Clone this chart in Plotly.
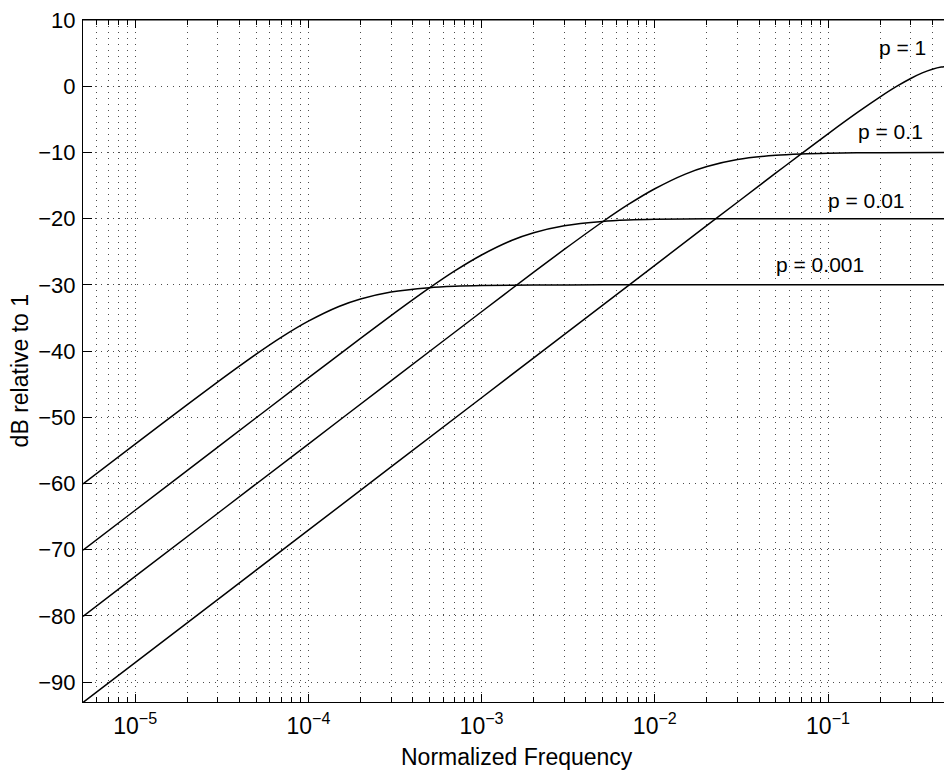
import plotly.graph_objects as go
import math

# ---- data ----
freq_p0001 = [5e-6, 1e-5, 2e-5, 3e-5, 5e-5, 7e-5, 1e-4, 1.5e-4, 2e-4, 3e-4, 5e-4, 7e-4, 1e-3, 2e-3, 5e-3, 1e-2, 1e-1, 0.5]
db_p0001 = [-60.06, -54.06, -48.08, -44.65, -40.47, -37.90, -35.49, -33.27, -32.13, -31.07, -30.42, -30.22, -30.11, -30.03, -30.00, -30.00, -30.00, -30.00]

freq_p001 = [5e-6, 1e-5, 3e-5, 1e-4, 2e-4, 3e-4, 5e-4, 7e-4, 1e-3, 1.5e-3, 2e-3, 3e-3, 5e-3, 7e-3, 1e-2, 2e-2, 5e-2, 1e-1, 0.5]
db_p001 = [-70.06, -64.04, -54.50, -44.06, -38.08, -34.65, -30.47, -27.90, -25.49, -23.27, -22.13, -21.07, -20.42, -20.22, -20.11, -20.03, -20.00, -20.00, -20.00]

freq_p01 = [5e-6, 1e-5, 1e-4, 3e-4, 1e-3, 2e-3, 3e-3, 5e-3, 7e-3, 1e-2, 1.5e-2, 2e-2, 3e-2, 5e-2, 7e-2, 0.1, 0.2, 0.5]
db_p01 = [-80.06, -74.04, -54.04, -44.50, -34.06, -28.08, -24.65, -20.47, -17.90, -15.49, -13.27, -12.13, -11.07, -10.42, -10.22, -10.11, -10.03, -10.00]

freq_p1 = [5e-6, 1e-5, 1e-4, 1e-3, 1e-2, 2e-2, 5e-2, 7e-2, 0.1, 0.15, 0.2, 0.25, 0.3, 0.35, 0.4, 0.45, 0.5]
db_p1 = [-93.07, -87.05, -67.05, -47.05, -27.05, -21.03, -13.10, -10.22, -7.19, -3.85, -1.61, 0.00, 1.17, 2.01, 2.57, 2.90, 3.01]

series = [
    ("p = 0.001", freq_p0001, db_p0001),
    ("p = 0.01", freq_p001, db_p001),
    ("p = 0.1", freq_p01, db_p01),
    ("p = 1", freq_p1, db_p1),
]

x_tickvals = [1e-5, 1e-4, 1e-3, 1e-2, 1e-1]
x_ticktext = ["10<sup>−5</sup>", "10<sup>−4</sup>", "10<sup>−3</sup>", "10<sup>−2</sup>", "10<sup>−1</sup>"]
y_tickvals = [10, 0, -10, -20, -30, -40, -50, -60, -70, -80, -90]

# curve labels: (text, frequency, dB)
labels = [
    ("p = 1", 0.2706, 5.8),
    ("p = 0.1", 0.2307, -6.8),
    ("p = 0.01", 0.1656, -17.2),
    ("p = 0.001", 0.0898, -26.9),
]

x_minor = [k * 10.0 ** d for d in range(-6, 0) for k in range(2, 10)]
x_minor = [v for v in x_minor if 5e-6 <= v <= 0.47]

FONT = "Liberation Sans, Arial, Helvetica, sans-serif"
GRID = "rgba(0,0,0,0.7)"

fig = go.Figure()
for name, f, d in series:
    fig.add_trace(go.Scatter(
        x=f, y=d, mode="lines", name=name,
        line=dict(color="black", width=1.5, shape="spline", smoothing=0.8),
        showlegend=False, hoverinfo="skip",
    ))

for text, f, d in labels:
    fig.add_annotation(x=math.log10(f), y=d, xref="x", yref="y", text=text,
                       showarrow=False, xanchor="center", yanchor="middle",
                       font=dict(family=FONT, size=21, color="black"))

# axis titles
fig.add_annotation(x=0.5045, y=-0.059, xref="paper", yref="paper",
                   text="Normalized Frequency", showarrow=False,
                   xanchor="center", yanchor="top",
                   font=dict(family=FONT, size=23, color="black"))
fig.add_annotation(x=-0.073, y=0.485, xref="paper", yref="paper",
                   text="dB relative to 1", showarrow=False, textangle=-90,
                   xanchor="center", yanchor="middle",
                   font=dict(family=FONT, size=23, color="black"))

# top border line
fig.add_shape(type="line", xref="paper", yref="paper", x0=0, x1=1, y0=1, y1=1,
              line=dict(color="black", width=1))

fig.update_xaxes(
    type="log", range=[math.log10(5e-6), -0.3306],
    tickvals=x_tickvals, ticktext=x_ticktext,
    ticks="inside", ticklen=8, tickwidth=1, tickcolor="black",
    ticklabelstandoff=3,
    showline=True, linecolor="black", linewidth=1, mirror="ticks",
    showgrid=True, gridcolor=GRID, gridwidth=1, griddash="1px,5px",
    zeroline=False,
    tickfont=dict(family=FONT, size=23, color="black"),
    minor=dict(tickvals=x_minor, ticks="inside", ticklen=5, tickwidth=1,
               tickcolor="black", showgrid=True, gridcolor=GRID,
               gridwidth=1, griddash="1px,5px"),
)
fig.update_yaxes(
    range=[-93, 10], tickvals=y_tickvals,
    ticks="inside", ticklen=9, tickwidth=1, tickcolor="black",
    ticklabelstandoff=2,
    showline=True, linecolor="black", linewidth=1, mirror=False,
    showgrid=True, gridcolor=GRID, gridwidth=1, griddash="1px,5px",
    zeroline=False,
    tickfont=dict(family=FONT, size=22, color="black"),
)

fig.update_layout(
    width=944, height=770,
    margin=dict(l=83, r=0, t=20, b=68),
    plot_bgcolor="white", paper_bgcolor="white",
    font=dict(family=FONT, color="black"),
)

fig.write_html("out.html")
